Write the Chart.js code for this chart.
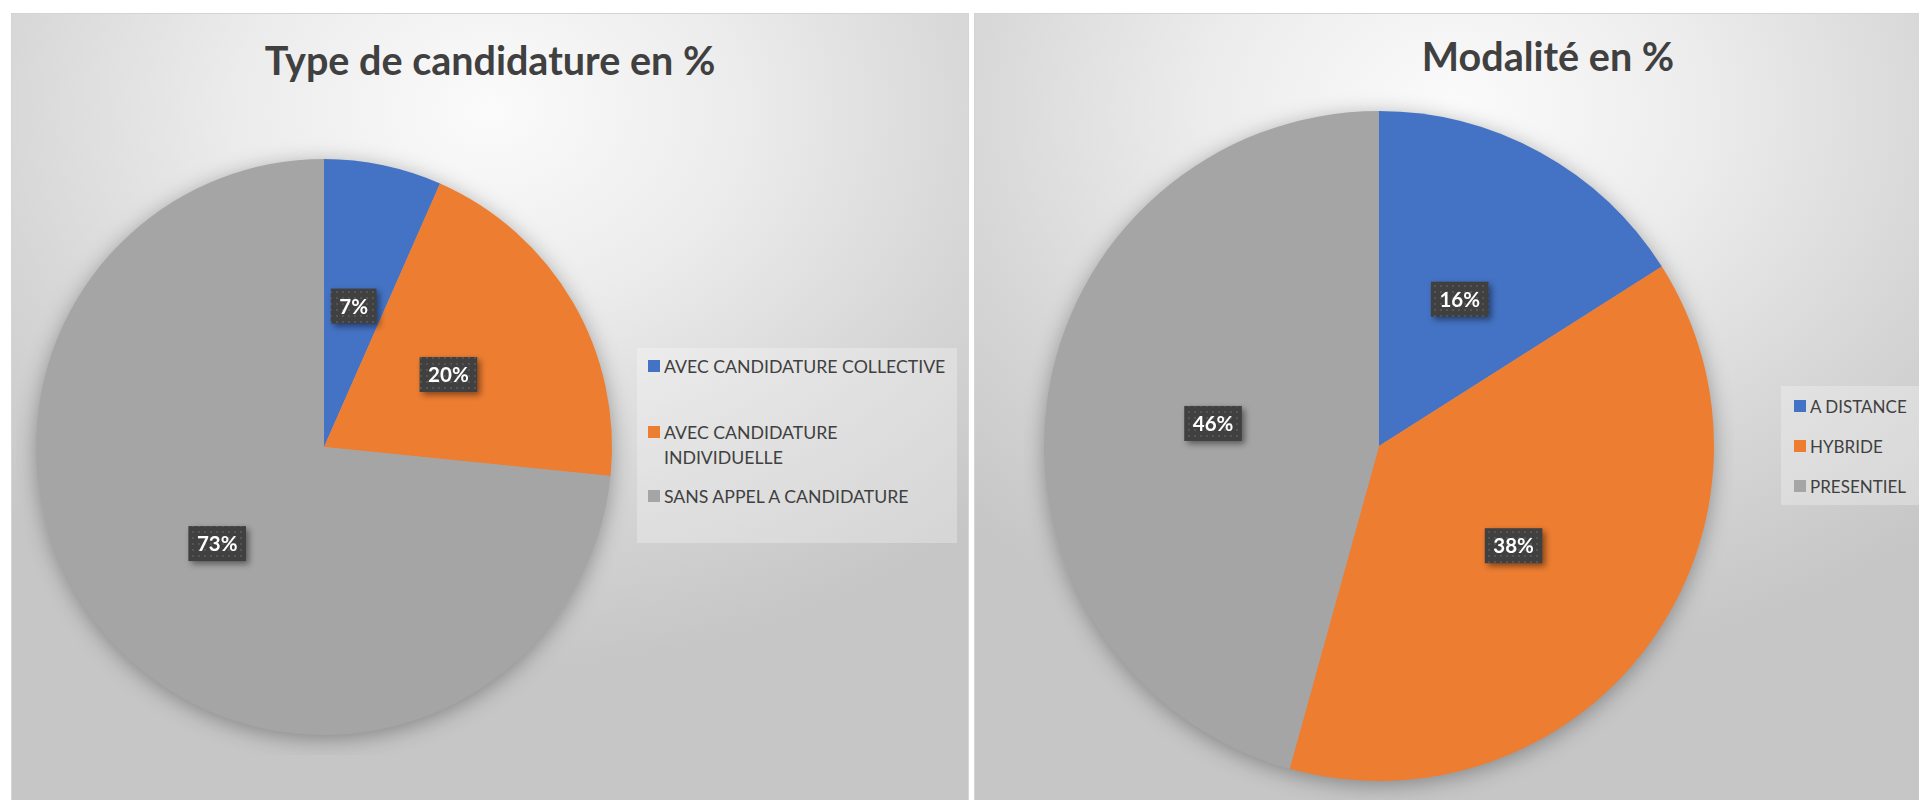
<!DOCTYPE html>
<html lang="fr">
<head>
    <meta charset="UTF-8">
    <title>Type de candidature / Modalité</title>
    <script src="https://cdn.jsdelivr.net/npm/chart.js"></script>
    <style>
        body {
            margin: 0;
            width: 1919px;
            height: 800px;
            overflow: hidden;
            background: #fff;
            font-family: Lato, "Open Sans", sans-serif;
            position: relative;
        }
        .panel {
            position: absolute;
            top: 13px;
            height: 800px;
            border: 1px solid #d4d4d4;
            background: radial-gradient(ellipse 75% 70% at 50% 12%, #fbfbfb 0%, #ececec 35%, #d6d6d6 70%, #c6c6c6 100%);
            overflow: hidden;
        }
        .title {
            position: absolute;
            font-weight: bold;
            color: #404040;
            font-size: 39.5px;
            transform: translate(-50%, -50%);
            white-space: nowrap;
        }
        canvas { position: absolute; }
        .legend {
            position: absolute;
            background: rgba(255, 255, 255, 0.28);
            color: #404040;
            font-size: 17px;
        }
        #typeLegend { font-size: 17.7px; }
        .legend .item {
            position: absolute;
            line-height: 25px;
            white-space: nowrap;
        }
        .legend .sw {
            position: absolute;
            width: 12px;
            height: 12px;
            top: 6px;
        }
    </style>
</head>
<body>
    <div class="panel" style="left:11px; width:956px;"></div>
    <div class="panel" style="left:974px; width:960px;"></div>

    <div class="title" style="left:490px; top:59px;">Type de candidature en %</div>
    <div class="title" style="left:1548px; top:55px;">Modalité en %</div>

    <canvas id="typeChart" width="616" height="616" style="left:16px; top:139px;"></canvas>
    <canvas id="modaliteChart" width="710" height="710" style="left:1024px; top:91px;"></canvas>

    <div class="legend" id="typeLegend" style="left:637px; top:348px; width:320px; height:195px;"></div>
    <div class="legend" id="modaliteLegend" style="left:1781px; top:386px; width:150px; height:119px;"></div>

    <script>
        const typeLabels = [
            'AVEC CANDIDATURE COLLECTIVE',
            ['AVEC CANDIDATURE', 'INDIVIDUELLE'],
            'SANS APPEL A CANDIDATURE'
        ];
        const typeValues = [6.6, 20.0, 73.4];

        const modaliteLabels = ['A DISTANCE', 'HYBRIDE', 'PRESENTIEL'];
        const modaliteValues = [16.0, 38.3, 45.7];

        const sliceColors = ['#4472C4', '#ED7D31', '#A5A5A5'];

        // dotted fill used behind the data labels
        function dotPattern(ctx) {
            const c = document.createElement('canvas');
            c.width = 6; c.height = 6;
            const p = c.getContext('2d');
            p.fillStyle = '#404040';
            p.fillRect(0, 0, 6, 6);
            p.fillStyle = '#555555';
            p.fillRect(2, 2, 2, 2);
            return ctx.createPattern(c, 'repeat');
        }

        // soft shadow behind the whole pie
        const pieShadow = {
            id: 'pieShadow',
            beforeDatasetsDraw(chart) {
                const arc = chart.getDatasetMeta(0).data[0];
                if (!arc) return;
                const ctx = chart.ctx;
                ctx.save();
                ctx.shadowColor = 'rgba(0,0,0,0.35)';
                ctx.shadowBlur = 22;
                ctx.shadowOffsetY = 4;
                ctx.beginPath();
                ctx.arc(arc.x, arc.y, arc.outerRadius - 1, 0, Math.PI * 2);
                ctx.fillStyle = '#a5a5a5';
                ctx.fill();
                ctx.restore();
            }
        };

        const boxLabels = {
            id: 'boxLabels',
            afterDatasetsDraw(chart) {
                const ctx = chart.ctx;
                const meta = chart.getDatasetMeta(0);
                const values = chart.data.datasets[0].data;
                const pattern = dotPattern(ctx);
                ctx.save();
                ctx.font = 'bold 20.5px Lato, "Open Sans", sans-serif';
                ctx.textAlign = 'center';
                ctx.textBaseline = 'middle';
                meta.data.forEach((arc, i) => {
                    const pos = arc.tooltipPosition();
                    const text = Math.round(values[i]) + '%';
                    const w = ctx.measureText(text).width + 17;
                    const h = 35;
                    ctx.save();
                    ctx.shadowColor = 'rgba(0,0,0,0.45)';
                    ctx.shadowBlur = 6;
                    ctx.shadowOffsetX = 3;
                    ctx.shadowOffsetY = 3;
                    ctx.fillStyle = pattern;
                    ctx.fillRect(pos.x - w / 2, pos.y - h / 2, w, h);
                    ctx.restore();
                    ctx.fillStyle = '#ffffff';
                    ctx.fillText(text, pos.x, pos.y + 1);
                });
                ctx.restore();
            }
        };

        function makePie(id, labels, values) {
            const ctx = document.getElementById(id).getContext('2d');
            return new Chart(ctx, {
                type: 'pie',
                data: {
                    labels: labels,
                    datasets: [{
                        data: values,
                        backgroundColor: sliceColors,
                        borderWidth: 0
                    }]
                },
                options: {
                    responsive: false,
                    animation: false,
                    layout: { padding: 20 },
                    plugins: {
                        legend: { display: false },
                        tooltip: { enabled: false }
                    }
                },
                plugins: [pieShadow, boxLabels]
            });
        }

        function makeLegend(id, labels, tops, left) {
            const box = document.getElementById(id);
            labels.forEach((label, i) => {
                const item = document.createElement('div');
                item.className = 'item';
                item.style.left = left + 'px';
                item.style.top = tops[i] + 'px';
                const lines = Array.isArray(label) ? label : [label];
                item.innerHTML = lines.join('<br>');
                const sw = document.createElement('span');
                sw.className = 'sw';
                sw.style.left = '-16px';
                sw.style.background = sliceColors[i];
                item.appendChild(sw);
                box.appendChild(item);
            });
        }

        makePie('typeChart', typeLabels, typeValues);
        makePie('modaliteChart', modaliteLabels, modaliteValues);

        makeLegend('typeLegend', typeLabels, [6, 72, 136], 27);
        makeLegend('modaliteLegend', modaliteLabels, [8, 48, 88], 29);
    </script>
</body>
</html>
